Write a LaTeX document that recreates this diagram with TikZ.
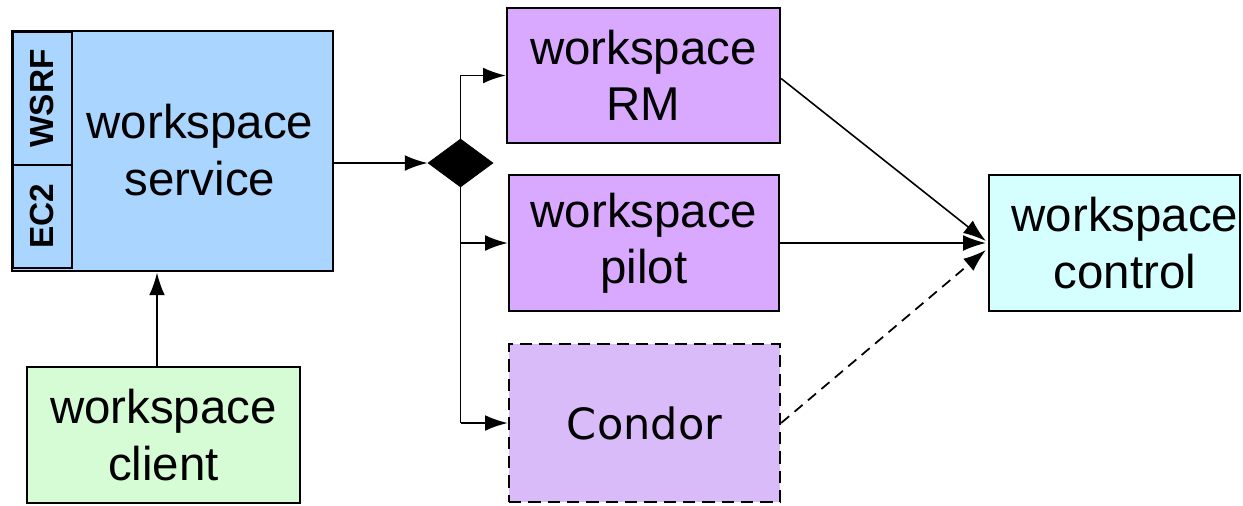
\documentclass[tikz,border=0pt]{standalone}
\usepackage{fontspec}
\setmainfont{Liberation Sans}
\newfontfamily\condorfont{DejaVu Sans}
\usetikzlibrary{arrows.meta,shapes.geometric,calc}

\definecolor{svcblue}{HTML}{A9D5FF}
\definecolor{rmviolet}{HTML}{D8A9FF}
\definecolor{condorviolet}{HTML}{D9BBF9}
\definecolor{clientgreen}{HTML}{D5FCD5}
\definecolor{ctrlcyan}{HTML}{D5FFFF}

\tikzset{
  box/.style={draw, line width=1.3pt, rectangle, inner sep=0pt,
    font=\fontsize{27}{32}\selectfont, align=center},
  label/.style={inner sep=0pt, font=\fontsize{27}{32}\selectfont, align=center},
  tab/.style={draw, line width=1.2pt, fill=svcblue, inner sep=0pt,
    font=\bfseries\fontsize{19}{22}\selectfont},
  flow/.style={line width=1.1pt, -{Latex[length=13pt,width=9pt]}},
}

\begin{document}
\begin{tikzpicture}[x=0.02cm, y=-0.02cm]
  \useasboundingbox (0,0) rectangle (1243,505);

  % workspace service with its two interface tabs
  \node[box, fill=svcblue, line width=1.6pt, minimum width=6.42cm, minimum height=4.8cm]
    (service) at (172.5,151) {};
  \node[tab, rotate=90, minimum width=2.66cm, minimum height=1.18cm]
    (wsrf) at (42.5,98.5) {WSRF};
  \node[tab, rotate=90, minimum width=2.06cm, minimum height=1.18cm]
    (ec2) at (42.5,216.5) {EC2};
  \node[label] (servicetext) at (200,150) {workspace\\service};

  % client
  \node[box, fill=clientgreen, minimum width=5.46cm, minimum height=2.72cm]
    (client) at (163.5,435) {workspace\\client};
  \coordinate (clientout) at ($(client.north)+(-6.5,0)$);

  % dispatch diamond
  \node[draw, fill=black, diamond, inner sep=0pt, shape aspect=1.35,
    minimum width=1.3cm, minimum height=0.96cm] (dia) at (460.5,163) {};

  % resource managers
  \node[box, fill=rmviolet, minimum width=5.46cm, minimum height=2.7cm]
    (rm) at (643.5,75.5) {workspace\\RM};
  \node[box, fill=rmviolet, minimum width=5.4cm, minimum height=2.72cm]
    (pilot) at (644,243) {workspace\\pilot};
  \node[box, fill=condorviolet, dashed, dash pattern=on 7pt off 4pt,
    minimum width=5.42cm, minimum height=3.16cm,
    font=\condorfont\fontsize{24.5}{29}\selectfont]
    (condor) at (644.5,423) {Condor};

  % control
  \node[box, fill=ctrlcyan, minimum width=5.02cm, minimum height=2.72cm]
    (control) at (1114.5,243) {};
  \node[label] (controltext) at (1125,243) {workspace\\control};

  % connectors
  \draw[flow] (clientout) -- (clientout |- service.south);
  \draw[flow] (dia.west -| service.east) -- (dia.west);
  \draw[flow] (dia.north) |- (rm.west);
  \draw[line width=1.1pt] (dia.south) -- (dia.south |- condor.west);
  \draw[flow] (dia.south |- pilot.west) -- (pilot.west);
  \draw[flow] (dia.south |- condor.west) -- (condor.west);

  \coordinate (ctrlin) at ($(control.west)+(-2,0)$);
  \draw[flow, line width=0.9pt] ($(rm.east)+(0,3)$) -- ($(ctrlin)+(0,-2)$);
  \draw[flow, line width=0.9pt] (pilot.east) -- (ctrlin);
  \draw[flow, line width=1pt, dashed, dash pattern=on 6pt off 4pt]
    (condor.east) -- ($(ctrlin)+(0,7)$);
\end{tikzpicture}
\end{document}
